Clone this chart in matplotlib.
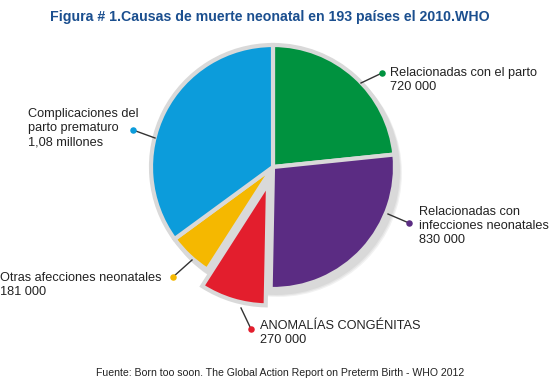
import matplotlib.pyplot as plt
from matplotlib.patches import Circle

plt.rcParams['font.family'] = ['Liberation Sans', 'DejaVu Sans']

# datos (muertes neonatales, 2010)
causas = ['Relacionadas con el parto', 'Relacionadas con infecciones neonatales',
          'ANOMALÍAS CONGÉNITAS', 'Otras afecciones neonatales',
          'Complicaciones del parto prematuro']
valores = [720000, 830000, 270000, 181000, 1080000]
colores = ['#00923F', '#5B2C83', '#E31E2D', '#F5B800', '#0C9CDB']
explode = [0, 0, 0.14, 0, 0]   # fracción del radio
etiquetas = ['Relacionadas con el parto\n720 000',
             'Relacionadas con\ninfecciones neonatales\n830 000',
             'ANOMALÍAS CONGÉNITAS\n270 000',
             'Otras afecciones neonatales\n181 000',
             'Complicaciones del\nparto prematuro\n1,08 millones']

W, H = 554, 386
fig = plt.figure(figsize=(W / 100, H / 100), dpi=100)
ax = fig.add_axes([0, 0, 1, 1])

cx, cy, r = 273, H - 167, 122

# sombra suave
for k in range(3):
    ax.add_patch(Circle((cx + 3 + k, cy - 4 - k), r + 2, color='black', alpha=0.05, lw=0, zorder=1))

wedges, _ = ax.pie(valores, colors=colores, explode=[e * r for e in explode], startangle=90,
                   counterclock=False, center=(cx, cy), radius=r, frame=True,
                   wedgeprops=dict(edgecolor='#D9D9D9', linewidth=3, zorder=2))
ax.set_xlim(0, W)
ax.set_ylim(0, H)
ax.set_aspect('equal')
ax.axis('off')

# (dot, inicio de la línea, texto) en coordenadas de imagen
anot = [((382, 73), (361, 83), (390, 80)),
        ((409, 223), (388, 214), (419, 226)),
        ((251, 329), (241, 308), (260, 333)),
        ((173, 277), (192, 260), (0, 285)),
        ((133, 130), (155, 138), (28, 128))]

for (d, l, t), lab, col in zip(anot, etiquetas, colores):
    ax.plot([l[0], d[0]], [H - l[1], H - d[1]], color='#333333', lw=1, zorder=3)
    ax.scatter([d[0]], [H - d[1]], s=22, color=col, zorder=4, linewidths=0)
    ax.text(t[0], H - t[1], lab, ha='left', va='center', fontsize=9.2,
            color='#222222', linespacing=1.25)

fig.text(270 / W, 1 - 17 / H, 'Figura # 1.Causas de muerte neonatal en 193 países el 2010.WHO',
         ha='center', va='center', fontsize=10.2, fontweight='bold', color='#1B4F8F')
fig.text(280 / W, 1 - 373 / H,
         'Fuente: Born too soon. The Global Action Report on Preterm Birth - WHO 2012',
         ha='center', va='center', fontsize=7.6, color='#222222')

fig.savefig('out.png', dpi=100)
